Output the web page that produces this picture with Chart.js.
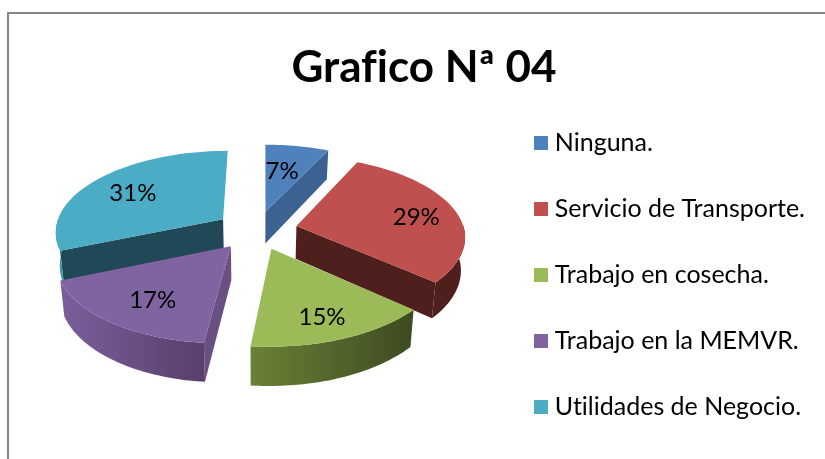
<!DOCTYPE html>
<html><head><meta charset="utf-8">
<style>
html,body{margin:0;padding:0;background:#fff;overflow:hidden}
#wrap{position:relative;width:825px;height:459px;overflow:hidden}
#frame{position:absolute;left:7px;top:12px;right:0;bottom:0;border-top:2px solid #868686;border-left:2px solid #868686}
canvas{position:absolute;left:0;top:0}
</style>
<script src="https://cdn.jsdelivr.net/npm/chart.js@4"></script>
</head><body>
<div id="wrap"><div id="frame"></div><canvas id="c" width="825" height="460"></canvas></div>
<script>
const titleText = 'Grafico Nª 04';
const categories = ['Ninguna.','Servicio de Transporte.','Trabajo en cosecha.','Trabajo en la MEMVR.','Utilidades de Negocio.'];
const shares = [7,29,15,17,31];

const topColors = ['#4F81BD','#C0504D','#9BBB59','#8064A2','#4BACC6'];
const cutColors = ['#3C6292','#4F1F1E','#3E4A20','#6A4F82','#214856'];
const wallLeft  = ['#3C6292','#4F1F1E','#6A8136','#7A5F9C','#3F93A9'];
const wallRight = ['#3C6292','#4F1F1E','#3E4A20','#583F6C','#3F93A9'];
const drawOrder = [0,4,1,3,2];
const labelNudge = [[-7,8],[5,3],[1,6],[6,1],[2,3]];

const VIEW = {rx:168, ry:80, persp:7.7, depth:33, cx:256.5, cy:230, shearFront:3.5, shearBack:1, converge:.02, labelR:.72};
const project = (x,y,z) => {
  const s = VIEW.persp/(VIEW.persp-y);
  const k = 1 - z*VIEW.converge;
  const shear = y>0 ? VIEW.shearFront : VIEW.shearBack;
  return [VIEW.cx + (x*VIEW.rx - y*shear)*s*k, VIEW.cy + y*VIEW.ry*s + z*VIEW.depth*s];
};
const swatch = color => {
  const c=document.createElement('canvas');c.width=14;c.height=14;
  const x=c.getContext('2d');x.fillStyle=color;x.fillRect(0,0,14,14);return c;
};
const swatches = topColors.map(swatch);

const pie3d = {
  id:'pie3d',
  beforeDraw(chart){chart.ctx.textRendering='optimizeSpeed';},
  beforeDatasetDraw(chart,args){
    const ctx = chart.ctx, els = chart.getDatasetMeta(0).data;
    const geom = els.map(el=>{
      const mid=(el.startAngle+el.endAngle)/2, e=el.options.offset/VIEW.rx;
      const ox=Math.cos(mid)*e, oy=Math.sin(mid)*e, rim=[], front=[];
      const n=48;
      for(let i=0;i<=n;i++){
        const a=el.startAngle+(el.endAngle-el.startAngle)*i/n;
        const p=[ox+Math.cos(a),oy+Math.sin(a)];
        rim.push(p);
        if(Math.sin(a)>=-.02) front.push(p);
      }
      return {mid,ox,oy,rim,front,start:el.startAngle,end:el.endAngle};
    });
    const poly=(pts)=>{ctx.beginPath();pts.forEach((p,i)=>i?ctx.lineTo(p[0],p[1]):ctx.moveTo(p[0],p[1]));ctx.closePath();};
    drawOrder.forEach(i=>{
      const g=geom[i];
      const t=g.rim.map(p=>project(p[0],p[1],0)), b=g.rim.map(p=>project(p[0],p[1],1));
      const a0=project(g.ox,g.oy,0), a1=project(g.ox,g.oy,1);
      ctx.fillStyle=cutColors[i];
      if(-Math.cos(g.start)>.04){poly([a0,t[0],b[0],a1]);ctx.fill();}
      if(Math.cos(g.end)>.04){poly([a0,t[t.length-1],b[b.length-1],a1]);ctx.fill();}
      if(g.front.length>1){
        const xs=t.map(p=>p[0]);
        const grad=ctx.createLinearGradient(Math.min(...xs),0,Math.max(...xs),0);
        grad.addColorStop(0,wallLeft[i]);grad.addColorStop(1,wallRight[i]);
        ctx.fillStyle=grad;
        const ft=g.front.map(p=>project(p[0],p[1],0)), fb=g.front.map(p=>project(p[0],p[1],1));
        poly(ft.concat(fb.reverse()));ctx.fill();
      }
      ctx.fillStyle=topColors[i];
      poly([a0].concat(t));ctx.fill();
    });
    ctx.fillStyle='#000';ctx.font='24px Lato';ctx.textAlign='center';ctx.textBaseline='middle';
    els.forEach((el,i)=>{
      const g=geom[i];
      const p=project(g.ox+Math.cos(g.mid)*VIEW.labelR,g.oy+Math.sin(g.mid)*VIEW.labelR,0);
      ctx.fillText(shares[i]+'%',p[0]+labelNudge[i][0],p[1]+labelNudge[i][1]);
    });
    return false;
  }
};

new Chart(document.getElementById('c'),{
  type:'pie',
  data:{labels:categories,datasets:[{data:shares,backgroundColor:topColors,borderWidth:0,offset:41}]},
  options:{
    responsive:false,animation:false,
    layout:{padding:{left:33,right:10,top:24,bottom:0}},
    plugins:{
      tooltip:{enabled:false},
      title:{display:true,text:titleText,color:'#000',font:{family:'Lato',size:44,weight:'bold'},padding:{top:17,bottom:0}},
      legend:{position:'right',align:'end',labels:{color:'#000',font:{family:'Lato',size:25},usePointStyle:true,pointStyleWidth:2,padding:41,
        generateLabels:()=>categories.map((text,i)=>({text,index:i,datasetIndex:0,pointStyle:swatches[i],fillStyle:topColors[i],lineWidth:0,strokeStyle:topColors[i],hidden:false}))}}
    }
  },
  plugins:[pie3d]
});
</script>
</body></html>
